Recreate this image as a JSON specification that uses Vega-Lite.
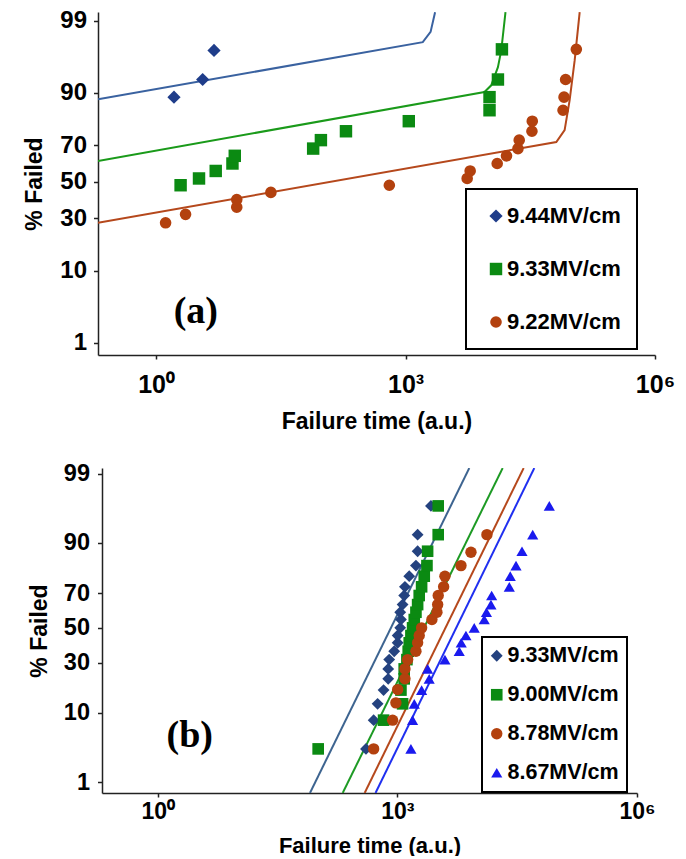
{
  "$schema": "https://vega.github.io/schema/vega-lite/v6.json",
  "background": "white",
  "padding": {"left": 23, "top": 8, "right": 0, "bottom": 0},
  "config": {
    "font": "Liberation Sans",
    "view": {"stroke": null},
    "axis": {
      "grid": false,
      "labelFont": "Liberation Sans",
      "labelFontWeight": "bold",
      "labelColor": "#000000",
      "titleFont": "Liberation Sans",
      "titleFontWeight": "bold",
      "titleColor": "#000000",
      "domainColor": "#222222",
      "tickColor": "#222222",
      "domainWidth": 1.5,
      "tickWidth": 1.5
    },
    "legend": {
      "orient": "none",
      "title": null,
      "strokeColor": "#000000",
      "strokeWidth": 2,
      "fillColor": "#ffffff",
      "labelFont": "Liberation Sans",
      "labelFontWeight": "bold",
      "labelColor": "#000000"
    }
  },
  "datasets": {
    "a_pts": [
      {"series": "9.44MV/cm", "t": 1.64, "pct": 88.9},
      {"series": "9.44MV/cm", "t": 3.63, "pct": 93.0},
      {"series": "9.44MV/cm", "t": 4.97, "pct": 97.1},
      {"series": "9.33MV/cm", "t": 1.97, "pct": 48.0},
      {"series": "9.33MV/cm", "t": 3.28, "pct": 51.9},
      {"series": "9.33MV/cm", "t": 5.21, "pct": 56.2},
      {"series": "9.33MV/cm", "t": 8.28, "pct": 60.4},
      {"series": "9.33MV/cm", "t": 8.83, "pct": 64.6},
      {"series": "9.33MV/cm", "t": 77.4, "pct": 68.4},
      {"series": "9.33MV/cm", "t": 95.9, "pct": 72.6},
      {"series": "9.33MV/cm", "t": 192, "pct": 76.7},
      {"series": "9.33MV/cm", "t": 1094, "pct": 80.9},
      {"series": "9.33MV/cm", "t": 10230, "pct": 84.9},
      {"series": "9.33MV/cm", "t": 10230, "pct": 88.9},
      {"series": "9.33MV/cm", "t": 12910, "pct": 93.0},
      {"series": "9.33MV/cm", "t": 14420, "pct": 97.2},
      {"series": "9.22MV/cm", "t": 1.30, "pct": 27.7},
      {"series": "9.22MV/cm", "t": 2.26, "pct": 31.9},
      {"series": "9.22MV/cm", "t": 9.33, "pct": 35.7},
      {"series": "9.22MV/cm", "t": 9.33, "pct": 39.9},
      {"series": "9.22MV/cm", "t": 24.0, "pct": 43.9},
      {"series": "9.22MV/cm", "t": 638, "pct": 48.0},
      {"series": "9.22MV/cm", "t": 5508, "pct": 51.9},
      {"series": "9.22MV/cm", "t": 5984, "pct": 56.2},
      {"series": "9.22MV/cm", "t": 12650, "pct": 60.4},
      {"series": "9.22MV/cm", "t": 16370, "pct": 64.6},
      {"series": "9.22MV/cm", "t": 22490, "pct": 68.4},
      {"series": "9.22MV/cm", "t": 23280, "pct": 72.6},
      {"series": "9.22MV/cm", "t": 33110, "pct": 76.7},
      {"series": "9.22MV/cm", "t": 33420, "pct": 80.9},
      {"series": "9.22MV/cm", "t": 78340, "pct": 84.9},
      {"series": "9.22MV/cm", "t": 80540, "pct": 88.9},
      {"series": "9.22MV/cm", "t": 84140, "pct": 93.0},
      {"series": "9.22MV/cm", "t": 113200, "pct": 97.2}
    ],
    "a_lines": [
      {"curve": "fit 9.44", "t": 0.2, "pct": 88.3},
      {"curve": "fit 9.44", "t": 1611, "pct": 97.8},
      {"curve": "fit 9.44", "t": 2000, "pct": 98.47},
      {"curve": "fit 9.44", "t": 2265, "pct": 99.28},
      {"curve": "fit 9.33", "t": 0.2, "pct": 61.8},
      {"curve": "fit 9.33", "t": 8892, "pct": 90.25},
      {"curve": "fit 9.33", "t": 10720, "pct": 91.8},
      {"curve": "fit 9.33", "t": 12910, "pct": 95.1},
      {"curve": "fit 9.33", "t": 14160, "pct": 97.1},
      {"curve": "fit 9.33", "t": 15920, "pct": 99.28},
      {"curve": "fit 9.22", "t": 0.2, "pct": 27.7},
      {"curve": "fit 9.22", "t": 65010, "pct": 71.7},
      {"curve": "fit 9.22", "t": 81850, "pct": 77.2},
      {"curve": "fit 9.22", "t": 93970, "pct": 88.0},
      {"curve": "fit 9.22", "t": 108100, "pct": 96.0},
      {"curve": "fit 9.22", "t": 124200, "pct": 99.28}
    ],
    "b_pts": [
      {"series": "9.33MV/cm", "t": 404, "pct": 3.4},
      {"series": "9.33MV/cm", "t": 504, "pct": 8.2},
      {"series": "9.33MV/cm", "t": 565, "pct": 12.6},
      {"series": "9.33MV/cm", "t": 671, "pct": 17.4},
      {"series": "9.33MV/cm", "t": 767, "pct": 22.1},
      {"series": "9.33MV/cm", "t": 767, "pct": 26.8},
      {"series": "9.33MV/cm", "t": 789, "pct": 31.6},
      {"series": "9.33MV/cm", "t": 912, "pct": 36.2},
      {"series": "9.33MV/cm", "t": 1007, "pct": 41.1},
      {"series": "9.33MV/cm", "t": 1007, "pct": 45.4},
      {"series": "9.33MV/cm", "t": 1084, "pct": 50.0},
      {"series": "9.33MV/cm", "t": 1107, "pct": 55.0},
      {"series": "9.33MV/cm", "t": 1084, "pct": 59.3},
      {"series": "9.33MV/cm", "t": 1161, "pct": 63.7},
      {"series": "9.33MV/cm", "t": 1216, "pct": 68.7},
      {"series": "9.33MV/cm", "t": 1242, "pct": 73.2},
      {"series": "9.33MV/cm", "t": 1406, "pct": 78.2},
      {"series": "9.33MV/cm", "t": 1706, "pct": 82.6},
      {"series": "9.33MV/cm", "t": 1791, "pct": 87.6},
      {"series": "9.33MV/cm", "t": 1791, "pct": 92.0},
      {"series": "9.33MV/cm", "t": 2630, "pct": 96.7},
      {"series": "9.00MV/cm", "t": 101.8, "pct": 3.4},
      {"series": "9.00MV/cm", "t": 671, "pct": 8.2},
      {"series": "9.00MV/cm", "t": 1161, "pct": 12.6},
      {"series": "9.00MV/cm", "t": 1107, "pct": 17.4},
      {"series": "9.00MV/cm", "t": 1216, "pct": 22.1},
      {"series": "9.00MV/cm", "t": 1216, "pct": 26.8},
      {"series": "9.00MV/cm", "t": 1315, "pct": 31.6},
      {"series": "9.00MV/cm", "t": 1365, "pct": 36.2},
      {"series": "9.00MV/cm", "t": 1406, "pct": 41.1},
      {"series": "9.00MV/cm", "t": 1476, "pct": 45.4},
      {"series": "9.00MV/cm", "t": 1549, "pct": 50.0},
      {"series": "9.00MV/cm", "t": 1626, "pct": 55.0},
      {"series": "9.00MV/cm", "t": 1706, "pct": 59.3},
      {"series": "9.00MV/cm", "t": 1791, "pct": 63.7},
      {"series": "9.00MV/cm", "t": 1875, "pct": 68.7},
      {"series": "9.00MV/cm", "t": 2009, "pct": 73.2},
      {"series": "9.00MV/cm", "t": 2168, "pct": 78.2},
      {"series": "9.00MV/cm", "t": 2344, "pct": 82.6},
      {"series": "9.00MV/cm", "t": 2388, "pct": 87.6},
      {"series": "9.00MV/cm", "t": 3243, "pct": 92.0},
      {"series": "9.00MV/cm", "t": 3243, "pct": 96.7},
      {"series": "8.78MV/cm", "t": 504, "pct": 3.4},
      {"series": "8.78MV/cm", "t": 871, "pct": 8.2},
      {"series": "8.78MV/cm", "t": 957, "pct": 12.9},
      {"series": "8.78MV/cm", "t": 1007, "pct": 17.6},
      {"series": "8.78MV/cm", "t": 1242, "pct": 22.1},
      {"series": "8.78MV/cm", "t": 1242, "pct": 26.8},
      {"series": "8.78MV/cm", "t": 1343, "pct": 31.6},
      {"series": "8.78MV/cm", "t": 1706, "pct": 36.2},
      {"series": "8.78MV/cm", "t": 1791, "pct": 41.1},
      {"series": "8.78MV/cm", "t": 1875, "pct": 45.4},
      {"series": "8.78MV/cm", "t": 2009, "pct": 50.0},
      {"series": "8.78MV/cm", "t": 2704, "pct": 55.0},
      {"series": "8.78MV/cm", "t": 3126, "pct": 59.3},
      {"series": "8.78MV/cm", "t": 3192, "pct": 63.7},
      {"series": "8.78MV/cm", "t": 3243, "pct": 68.7},
      {"series": "8.78MV/cm", "t": 3793, "pct": 73.2},
      {"series": "8.78MV/cm", "t": 3936, "pct": 78.2},
      {"series": "8.78MV/cm", "t": 6252, "pct": 82.6},
      {"series": "8.78MV/cm", "t": 8337, "pct": 87.3},
      {"series": "8.78MV/cm", "t": 13210, "pct": 92.0},
      {"series": "8.67MV/cm", "t": 1476, "pct": 3.4},
      {"series": "8.67MV/cm", "t": 1549, "pct": 8.2},
      {"series": "8.67MV/cm", "t": 1626, "pct": 12.6},
      {"series": "8.67MV/cm", "t": 2009, "pct": 17.4},
      {"series": "8.67MV/cm", "t": 2500, "pct": 22.1},
      {"series": "8.67MV/cm", "t": 2388, "pct": 26.8},
      {"series": "8.67MV/cm", "t": 3936, "pct": 31.6},
      {"series": "8.67MV/cm", "t": 5943, "pct": 36.2},
      {"series": "8.67MV/cm", "t": 6295, "pct": 41.1},
      {"series": "8.67MV/cm", "t": 7211, "pct": 45.4},
      {"series": "8.67MV/cm", "t": 9162, "pct": 50.0},
      {"series": "8.67MV/cm", "t": 12220, "pct": 55.0},
      {"series": "8.67MV/cm", "t": 13030, "pct": 59.3},
      {"series": "8.67MV/cm", "t": 14830, "pct": 63.7},
      {"series": "8.67MV/cm", "t": 15140, "pct": 68.7},
      {"series": "8.67MV/cm", "t": 25180, "pct": 73.2},
      {"series": "8.67MV/cm", "t": 25880, "pct": 78.2},
      {"series": "8.67MV/cm", "t": 30550, "pct": 82.6},
      {"series": "8.67MV/cm", "t": 36310, "pct": 87.6},
      {"series": "8.67MV/cm", "t": 49430, "pct": 92.0},
      {"series": "8.67MV/cm", "t": 79800, "pct": 96.7}
    ],
    "b_lines": [
      {"curve": "fit 9.33", "t": 80.4, "pct": 0.64},
      {"curve": "fit 9.33", "t": 7943, "pct": 99.2},
      {"curve": "fit 9.00", "t": 206.5, "pct": 0.64},
      {"curve": "fit 9.00", "t": 20800, "pct": 99.2},
      {"curve": "fit 8.78", "t": 389, "pct": 0.64},
      {"curve": "fit 8.78", "t": 38100, "pct": 99.2},
      {"curve": "fit 8.67", "t": 532, "pct": 0.64},
      {"curve": "fit 8.67", "t": 51760, "pct": 99.2}
    ]
  },
  "vconcat": [
    {
      "width": 557,
      "height": 343,
      "encoding": {
        "x": {
          "field": "t", "type": "quantitative",
          "scale": {"type": "log", "domain": [0.2, 1000000], "nice": false},
          "axis": {
            "values": [1, 1000, 1000000],
            "labelExpr": "datum.value == 1 ? '10⁰' : datum.value == 1000 ? '10³' : '10⁶'",
            "title": "Failure time (a.u.)",
            "labelFontSize": 25, "titleFontSize": 23,
            "tickSize": 4, "labelPadding": 13, "titlePadding": 13,
            "labelFlush": false, "labelOverlap": false
          }
        },
        "y": {
          "field": "z", "type": "quantitative",
          "scale": {"domain": [-2.5, 2.45], "nice": false, "zero": false},
          "axis": {
            "values": [-2.326348, -1.281552, -0.524401, 0, 0.524401, 1.281552, 2.326348],
            "labelExpr": "format(cumulativeNormal(datum.value) * 100, '.0f')",
            "title": "% Failed",
            "labelFontSize": 24, "titleFontSize": 23,
            "tickSize": 4.5, "labelPadding": 7, "titlePadding": 13,
            "labelOverlap": false
          }
        }
      },
      "layer": [
        {
          "data": {"name": "a_lines"},
          "transform": [{"calculate": "quantileNormal(datum.pct / 100)", "as": "z"}],
          "mark": {"type": "line", "strokeWidth": 2, "clip": true},
          "encoding": {
            "stroke": {
              "field": "curve", "type": "nominal",
              "scale": {"domain": ["fit 9.44", "fit 9.33", "fit 9.22"], "range": ["#3a62a0", "#1a9a1a", "#b5481c"]},
              "legend": null
            }
          }
        },
        {
          "data": {"name": "a_pts"},
          "transform": [{"calculate": "quantileNormal(datum.pct / 100)", "as": "z"}],
          "mark": {"type": "point", "filled": true, "opacity": 1},
          "encoding": {
            "color": {
              "field": "series", "type": "nominal",
              "scale": {"domain": ["9.44MV/cm", "9.33MV/cm", "9.22MV/cm"], "range": ["#1f3d8a", "#0b8a12", "#b3410e"]},
              "legend": {"legendX": 368, "legendY": 177, "padding": 16, "rowPadding": 31, "symbolOffset": 3, "labelOffset": 0, "labelFontSize": 22}
            },
            "shape": {
              "field": "series", "type": "nominal",
              "scale": {"domain": ["9.44MV/cm", "9.33MV/cm", "9.22MV/cm"], "range": ["diamond", "square", "circle"]},
              "legend": {"legendX": 368, "legendY": 177, "padding": 16, "rowPadding": 31, "symbolOffset": 3, "labelOffset": 0, "labelFontSize": 22}
            },
            "size": {
              "field": "series", "type": "nominal",
              "scale": {"domain": ["9.44MV/cm", "9.33MV/cm", "9.22MV/cm"], "range": [175, 135, 70]},
              "legend": {"legendX": 368, "legendY": 177, "padding": 16, "rowPadding": 31, "symbolOffset": 3, "labelOffset": 0, "labelFontSize": 22}
            }
          }
        },
        {
          "data": {"values": [{"label": "(a)", "t": 3.0, "pct": 3.0}]},
          "transform": [{"calculate": "quantileNormal(datum.pct / 100)", "as": "z"}],
          "mark": {"type": "text", "font": "Liberation Serif", "fontWeight": "bold", "fontSize": 38, "align": "center", "baseline": "middle", "color": "#000000"},
          "encoding": {"text": {"field": "label"}}
        }
      ]
    },
    {
      "width": 539,
      "height": 325,
      "encoding": {
        "x": {
          "field": "t", "type": "quantitative",
          "scale": {"type": "log", "domain": [0.2, 1000000], "nice": false, "range": [4, 539]},
          "axis": {
            "values": [1, 1000, 1000000],
            "labelExpr": "datum.value == 1 ? '10⁰' : datum.value == 1000 ? '10³' : '10⁶'",
            "title": "Failure time (a.u.)",
            "labelFontSize": 23, "titleFontSize": 22,
            "tickSize": 4, "labelPadding": 3, "titlePadding": 12,
            "labelFlush": false, "labelOverlap": false
          }
        },
        "y": {
          "field": "z", "type": "quantitative",
          "scale": {"domain": [-2.49, 2.41], "nice": false, "zero": false},
          "axis": {
            "values": [-2.326348, -1.281552, -0.524401, 0, 0.524401, 1.281552, 2.326348],
            "labelExpr": "format(cumulativeNormal(datum.value) * 100, '.0f')",
            "title": "% Failed",
            "labelFontSize": 23.5, "titleFontSize": 23,
            "tickSize": 4.5, "labelPadding": 8, "titlePadding": 12,
            "offset": -4,
            "labelOverlap": false
          }
        }
      },
      "layer": [
        {
          "data": {"name": "b_lines"},
          "transform": [{"calculate": "quantileNormal(datum.pct / 100)", "as": "z"}],
          "mark": {"type": "line", "strokeWidth": 2, "clip": true},
          "encoding": {
            "stroke": {
              "field": "curve", "type": "nominal",
              "scale": {"domain": ["fit 9.33", "fit 9.00", "fit 8.78", "fit 8.67"], "range": ["#3d6490", "#1d9a24", "#b5481c", "#1f2ff0"]},
              "legend": null
            }
          }
        },
        {
          "data": {"name": "b_pts"},
          "transform": [{"calculate": "quantileNormal(datum.pct / 100)", "as": "z"}],
          "mark": {"type": "point", "filled": true, "opacity": 1},
          "encoding": {
            "color": {
              "field": "series", "type": "nominal",
              "scale": {"domain": ["9.33MV/cm", "9.00MV/cm", "8.78MV/cm", "8.67MV/cm"], "range": ["#24427f", "#0b8a12", "#b3410e", "#1a1aee"]},
              "legend": {"legendX": 384, "legendY": 169, "padding": 8, "rowPadding": 16, "symbolOffset": -4, "labelOffset": 0, "labelFontSize": 21.5}
            },
            "shape": {
              "field": "series", "type": "nominal",
              "scale": {"domain": ["9.33MV/cm", "9.00MV/cm", "8.78MV/cm", "8.67MV/cm"], "range": ["diamond", "square", "circle", "triangle-up"]},
              "legend": {"legendX": 384, "legendY": 169, "padding": 8, "rowPadding": 16, "symbolOffset": -4, "labelOffset": 0, "labelFontSize": 21.5}
            },
            "size": {
              "field": "series", "type": "nominal",
              "scale": {"domain": ["9.33MV/cm", "9.00MV/cm", "8.78MV/cm", "8.67MV/cm"], "range": [140, 125, 130, 42]},
              "legend": {"legendX": 384, "legendY": 169, "padding": 8, "rowPadding": 16, "symbolOffset": -4, "labelOffset": 0, "labelFontSize": 21.5}
            }
          }
        },
        {
          "data": {"values": [{"label": "(b)", "t": 2.51, "pct": 5.07}]},
          "transform": [{"calculate": "quantileNormal(datum.pct / 100)", "as": "z"}],
          "mark": {"type": "text", "font": "Liberation Serif", "fontWeight": "bold", "fontSize": 38, "align": "center", "baseline": "middle", "color": "#000000"},
          "encoding": {"text": {"field": "label"}}
        }
      ]
    }
  ],
  "spacing": 28,
  "resolve": {
    "scale": {"x": "independent", "y": "independent", "color": "independent", "shape": "independent", "size": "independent", "stroke": "independent"},
    "legend": {"color": "independent", "shape": "independent", "size": "independent"}
  }
}
